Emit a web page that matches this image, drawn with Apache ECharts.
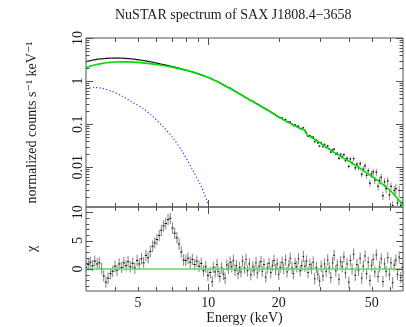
<!DOCTYPE html>
<html><head><meta charset="utf-8">
<script src="https://cdn.jsdelivr.net/npm/echarts@6/dist/echarts.min.js"></script>
<style>html,body{margin:0;padding:0;background:#fff}#c{width:406px;height:327px}</style>
</head><body><div id="c"></div>
<script>
// ---------- texts ----------
const titleText = 'NuSTAR spectrum of SAX J1808.4\u22123658';
const xTitle = 'Energy (keV)';
const yTopTitle = 'normalized counts s\u207B\u00B9 keV\u207B\u00B9';
const yBotTitle = '\u03C7';

// ---------- energy bins (shared by spectrum and residuals) ----------
const binE = [
  3.00, 3.07, 3.13, 3.20, 3.27, 3.35, 3.42, 3.50, 3.57, 3.65,
  3.73, 3.82, 3.90, 3.99, 4.07, 4.16, 4.26, 4.35, 4.45, 4.54,
  4.64, 4.75, 4.85, 4.96, 5.07, 5.18, 5.29, 5.41, 5.53, 5.65,
  5.78, 5.90, 6.03, 6.17, 6.30, 6.44, 6.58, 6.73, 6.88, 7.03,
  7.18, 7.34, 7.50, 7.67, 7.84, 8.01, 8.19, 8.37, 8.55, 8.74,
  8.93, 9.13, 9.33, 9.54, 9.75, 9.96, 10.2, 10.4, 10.5, 10.7,
  10.9, 11.0, 11.2, 11.4, 11.6, 11.8, 12.0, 12.2, 12.4, 12.6,
  12.8, 13.0, 13.2, 13.4, 13.6, 13.8, 14.0, 14.3, 14.5, 14.7,
  15.0, 15.2, 15.5, 15.7, 16.0, 16.2, 16.5, 16.8, 17.0, 17.3,
  17.6, 17.9, 18.2, 18.5, 18.8, 19.1, 19.4, 19.7, 20.0, 20.3,
  20.7, 21.0, 21.4, 21.7, 22.1, 22.4, 22.8, 23.1, 23.5, 23.9,
  24.3, 24.7, 25.1, 25.5, 25.9, 26.3, 26.7, 27.2, 27.6, 28.1,
  28.5, 29.0, 29.4, 29.9, 30.4, 30.9, 31.4, 31.9, 32.4, 32.9,
  33.4, 34.0, 34.5, 35.1, 35.6, 36.2, 36.8, 37.4, 38.0, 38.6,
  39.2, 39.9, 40.5, 41.2, 41.8, 42.5, 43.2, 43.9, 44.6, 45.3,
  46.0, 46.8, 47.5, 48.3, 49.1, 49.9, 50.7, 51.5, 52.3, 53.2,
  54.0, 54.9, 55.8, 56.7, 57.6, 58.5, 59.5, 60.4, 61.4, 62.4,
  63.4, 64.4, 65.5, 66.5, 67.6];

// ---------- top panel: data (black, grey error bars) ----------
const specRate = [
  2.82, 2.91, 2.99, 3.06, 3.13, 3.20, 3.25, 3.29, 3.32, 3.36,
  3.38, 3.40, 3.41, 3.42, 3.42, 3.42, 3.40, 3.38, 3.36, 3.33,
  3.30, 3.25, 3.21, 3.15, 3.10, 3.05, 2.99, 2.94, 2.87, 2.81,
  2.74, 2.68, 2.60, 2.53, 2.47, 2.42, 2.36, 2.30, 2.23, 2.17,
  2.11, 2.05, 1.99, 1.93, 1.86, 1.80, 1.74, 1.68, 1.63, 1.57,
  1.51, 1.46, 1.40, 1.34, 1.28, 1.22, 1.16, 1.11, 1.08, 1.03,
  0.99, 0.955, 0.905, 0.87, 0.82, 0.77, 0.745, 0.71, 0.685, 0.65,
  0.615, 0.58, 0.555, 0.53, 0.51, 0.485, 0.465, 0.43, 0.415, 0.395,
  0.37, 0.355, 0.34, 0.326, 0.305, 0.295, 0.277, 0.262, 0.249, 0.238,
  0.225, 0.214, 0.205, 0.192, 0.183, 0.174, 0.160, 0.154, 0.146, 0.141,
  0.140, 0.127, 0.129, 0.114, 0.112, 0.113, 0.100, 0.093, 0.096, 0.089,
  0.090, 0.079, 0.079, 0.083, 0.072, 0.064, 0.052, 0.054, 0.050, 0.050,
  0.0393, 0.043, 0.037, 0.031, 0.037, 0.030, 0.034, 0.029, 0.0316, 0.027,
  0.0226, 0.0253, 0.0263, 0.0205, 0.0211, 0.0162, 0.0200, 0.0177, 0.0196, 0.0144,
  0.0161, 0.0105, 0.0156, 0.0126, 0.0159, 0.0097, 0.0119, 0.0098, 0.0122, 0.0069,
  0.0091, 0.0108, 0.0065, 0.0084, 0.0043, 0.0070, 0.0078, 0.0050, 0.0077, 0.0036,
  0.0050, 0.0059, 0.0022, 0.0046, 0.0032, 0.0048, 0.0023, 0.0036, 0.0013, 0.0029,
  0.0032, 0.0015, 0.0029, 0.0013, 0.0015];
const specErrFrac = [
  0.004, 0.004, 0.004, 0.004, 0.004, 0.004, 0.004, 0.004, 0.004, 0.004,
  0.004, 0.004, 0.004, 0.004, 0.004, 0.004, 0.004, 0.004, 0.004, 0.004,
  0.004, 0.004, 0.004, 0.004, 0.004, 0.004, 0.004, 0.004, 0.004, 0.004,
  0.004, 0.004, 0.004, 0.004, 0.004, 0.004, 0.004, 0.004, 0.004, 0.004,
  0.004, 0.004, 0.004, 0.004, 0.004, 0.004, 0.004, 0.004, 0.004, 0.004,
  0.005, 0.005, 0.005, 0.005, 0.006, 0.006, 0.006, 0.007, 0.007, 0.007,
  0.008, 0.008, 0.009, 0.009, 0.010, 0.010, 0.011, 0.011, 0.012, 0.012,
  0.013, 0.013, 0.014, 0.014, 0.015, 0.015, 0.016, 0.017, 0.017, 0.018,
  0.019, 0.019, 0.020, 0.021, 0.022, 0.022, 0.023, 0.024, 0.025, 0.026,
  0.027, 0.028, 0.029, 0.030, 0.031, 0.032, 0.033, 0.034, 0.035, 0.036,
  0.037, 0.038, 0.039, 0.040, 0.041, 0.042, 0.043, 0.044, 0.045, 0.046,
  0.047, 0.048, 0.049, 0.050, 0.051, 0.052, 0.053, 0.054, 0.055, 0.056,
  0.055, 0.056, 0.057, 0.058, 0.059, 0.060, 0.061, 0.062, 0.063, 0.064,
  0.065, 0.068, 0.071, 0.075, 0.078, 0.082, 0.086, 0.090, 0.095, 0.100,
  0.105, 0.110, 0.115, 0.120, 0.125, 0.130, 0.135, 0.140, 0.145, 0.150,
  0.155, 0.160, 0.165, 0.170, 0.175, 0.180, 0.185, 0.190, 0.195, 0.200,
  0.205, 0.210, 0.215, 0.220, 0.225, 0.230, 0.240, 0.250, 0.260, 0.270,
  0.280, 0.290, 0.300, 0.310, 0.320];

// ---------- top panel: model (green) ----------
const modelE = [3.0, 3.2, 3.4, 3.6, 3.8, 4.0, 4.3, 4.6, 5.0, 5.5, 6.0, 6.5, 7.0, 7.5, 8.0, 8.5, 9.0, 9.5, 10.0,
  10.5, 11.0, 12.0, 13.0, 14.0, 15.0, 16.0, 17.0, 18.0, 19.0, 20.0, 21.0, 22.0, 23.0, 24.0, 25.0,
  25.8, 26.5, 27.5, 29.0, 31.0, 33.0, 35.0, 37.0, 40.0, 43.0, 46.0, 50.0, 54.0, 58.0, 62.0, 65.0, 68.0];
const modelRate = [2.07, 2.30, 2.48, 2.62, 2.72, 2.78, 2.81, 2.80, 2.72, 2.58, 2.43, 2.27, 2.11, 1.95, 1.80, 1.64, 1.49, 1.35, 1.21,
  1.08, 0.96, 0.74, 0.58, 0.46, 0.37, 0.30, 0.25, 0.21, 0.175, 0.148, 0.127, 0.110, 0.096, 0.086, 0.078,
  0.072, 0.055, 0.050, 0.042, 0.033, 0.026, 0.021, 0.0175, 0.0138, 0.0108, 0.0084, 0.0062, 0.0046, 0.0034, 0.0024, 0.0018, 0.0013];

// ---------- top panel: thermal component (blue dotted) ----------
const bbE = [3.0, 3.25, 3.5, 3.9, 4.3, 4.75, 5.25, 5.8, 6.4, 7.0, 7.75, 8.5, 9.35, 10.0];
const bbRate = [0.66, 0.71, 0.68, 0.57, 0.44, 0.32, 0.235, 0.15, 0.088, 0.051, 0.023, 0.0095, 0.0035, 0.0014];

// ---------- bottom panel: residuals (chi) ----------
const resChi = [
  0.3, 0.8, 1.2, 0.6, 1.4, 0.9, 1.1, 0.1, -1.2, -2.3,
  -1.6, -0.8, -0.4, 0.5, -0.2, 0.9, 0.3, 1.1, 0.6, 1.3,
  0.4, 1.0, 0.2, 1.5, 0.9, 1.8, 1.1, 2.4, 2.0, 3.1,
  4.0, 4.6, 5.2, 5.9, 6.8, 7.6, 8.0, 8.7, 8.9, 7.2,
  6.3, 5.5, 4.4, 3.0, 1.6, 1.5, 1.9, 1.2, 1.7, 0.8,
  1.4, 0.5, 1.0, -0.3, 0.4, -1.1, -0.6, -2.2, 0.3, -0.5,
  0.8, -0.4, -1.3, 0.2, -0.9, -1.6, 0.7, 0.1, 1.2, 0.4,
  1.5, -0.2, 0.6, -0.8, 0.3, -0.5, 1.4, 0.2, 1.7, -0.3,
  0.9, -1.0, 0.4, -0.2, 1.1, -0.7, 0.5, 1.3, -0.4, 0.8,
  -1.4, 0.2, 1.0, -0.6, 0.6, 1.5, -0.1, 0.9, -0.9, 0.3,
  1.2, 0.1, 1.6, -0.5, 0.7, 1.9, 0.2, -0.8, 1.0, 0.4,
  1.8, -0.3, 0.6, 2.2, 0.5, 1.4, -0.6, 0.8, 0.1, 1.2,
  -1.7, 0.3, -0.9, -2.1, 0.5, -1.2, 0.9, -0.4, 1.6, 0.2,
  -1.5, 1.1, 2.4, -0.3, 0.7, -1.8, 1.3, 0.4, 2.1, -0.7,
  0.9, -2.3, 1.5, 0.0, 2.6, -1.1, 0.8, -0.2, 1.9, -1.6,
  0.5, 2.3, -0.8, 1.2, -2.0, 0.6, 1.7, -0.5, 2.5, -1.3,
  0.4, 1.8, -2.2, 0.9, -0.4, 2.0, -1.0, 1.1, -2.4, 0.7,
  1.6, -0.9, 2.1, -1.5, 0.3];
const resZero = [0];

// ---------- axes: ranges, ticks and labels ----------
const xRange = [3, 68];
const yTopRange = [0.0012, 10];
const yBotRange = [-3.85, 10.9];
const xTickVals = [4, 5, 6, 7, 8, 9, 10, 20, 30, 40, 50, 60];
const xMajorTicks = [10];
const xLabelVals = [5, 10, 20, 50];
const xLabelText = ['5', '10', '20', '50'];
const yTopMajor = [0.01, 0.1, 1, 10];
const yTopMinor = [0.002, 0.003, 0.004, 0.005, 0.006, 0.007, 0.008, 0.009,
  0.02, 0.03, 0.04, 0.05, 0.06, 0.07, 0.08, 0.09,
  0.2, 0.3, 0.4, 0.5, 0.6, 0.7, 0.8, 0.9,
  2, 3, 4, 5, 6, 7, 8, 9];
const yTopLabelText = ['0.01', '0.1', '1', '10'];
const yBotMajor = [0, 5, 10];
const yBotMinor = [-3, -2, -1, 1, 2, 3, 4, 6, 7, 8, 9];
const yBotLabelText = ['0', '5', '10'];

// ---------- styles ----------
const AX = '#505050';
const TXT = '#1a1a1a';
const FAM = '"Liberation Serif", "DejaVu Serif", serif';
const FS = 14;

const chart = echarts.init(document.getElementById('c'), null, {renderer: 'canvas'});

function px(v) { return Math.round(v) + 0.5; }

function xTickSeries(g, yRef) {
  return {
    type: 'custom', xAxisIndex: g, yAxisIndex: g, silent: true, z: 10, clip: false,
    data: xTickVals.map(v => [v, yRef]),
    renderItem(params, api) {
      const cs = params.coordSys;
      const v = api.value(0);
      const x = px(api.coord([v, yRef])[0]);
      const len = xMajorTicks.indexOf(v) >= 0 ? 7 : 4;
      const b = cs.y + cs.height, t = cs.y;
      return {type: 'group', children: [
        {type: 'line', shape: {x1: x, y1: b, x2: x, y2: b - len}, style: {stroke: AX, lineWidth: 1}},
        {type: 'line', shape: {x1: x, y1: t, x2: x, y2: t + len}, style: {stroke: AX, lineWidth: 1}}
      ]};
    }
  };
}
function yTickSeries(g, vals, len, xRef) {
  return {
    type: 'custom', xAxisIndex: g, yAxisIndex: g, silent: true, z: 10, clip: false,
    data: vals.map(v => [xRef, v]),
    renderItem(params, api) {
      const cs = params.coordSys;
      const y = px(api.coord([xRef, api.value(1)])[1]);
      const l = cs.x, r = cs.x + cs.width;
      return {type: 'group', children: [
        {type: 'line', shape: {x1: l, y1: y, x2: l + len, y2: y}, style: {stroke: AX, lineWidth: 1}},
        {type: 'line', shape: {x1: r, y1: y, x2: r - len, y2: y}, style: {stroke: AX, lineWidth: 1}}
      ]};
    }
  };
}
function yLabelSeries(g, vals, texts, xRef) {
  return {
    type: 'custom', xAxisIndex: g, yAxisIndex: g, silent: true, z: 10, clip: false,
    data: vals.map(v => [xRef, v]),
    renderItem(params, api) {
      const cs = params.coordSys;
      const y = api.coord([xRef, api.value(1)])[1];
      return {type: 'text', x: cs.x - 8, y: y, rotation: Math.PI / 2,
        style: {text: texts[params.dataIndex], fill: TXT, fontSize: FS, fontFamily: FAM, align: 'center', verticalAlign: 'middle'}};
    }
  };
}
function xLabelSeries(g, yRef) {
  return {
    type: 'custom', xAxisIndex: g, yAxisIndex: g, silent: true, z: 10, clip: false,
    data: xLabelVals.map(v => [v, yRef]),
    renderItem(params, api) {
      const cs = params.coordSys;
      const x = api.coord([api.value(0), yRef])[0];
      return {type: 'text', x: x, y: cs.y + cs.height + 12,
        style: {text: xLabelText[params.dataIndex], fill: TXT, fontSize: FS, fontFamily: FAM, align: 'center', verticalAlign: 'middle'}};
    }
  };
}
function binEdges(arr, i) {
  const e = arr[i];
  let hi = i < arr.length - 1 ? Math.sqrt(arr[i + 1] * e) : null;
  let lo = i > 0 ? Math.sqrt(arr[i - 1] * e) : null;
  if (lo === null) lo = e * e / hi;
  if (hi === null) hi = e * e / lo;
  return [lo, hi];
}

const hiddenAxis = {axisLine: {show: false}, axisTick: {show: false}, axisLabel: {show: false}, splitLine: {show: false}};

const option = {
  animation: false,
  backgroundColor: '#fff',
  title: {text: titleText, left: 110, top: 3,
    textStyle: {fontFamily: FAM, fontSize: FS, fontWeight: 'normal', color: TXT}},
  grid: [
    {left: 86, top: 38, width: 317, height: 169, show: true, borderColor: AX, borderWidth: 1, backgroundColor: 'transparent'},
    {left: 86, top: 207, width: 317, height: 84, show: true, borderColor: AX, borderWidth: 1, backgroundColor: 'transparent'}
  ],
  xAxis: [
    Object.assign({type: 'log', logBase: 10, gridIndex: 0, min: xRange[0], max: xRange[1]}, hiddenAxis),
    Object.assign({type: 'log', logBase: 10, gridIndex: 1, min: xRange[0], max: xRange[1],
      name: xTitle, nameLocation: 'middle', nameGap: 20,
      nameTextStyle: {fontFamily: FAM, fontSize: FS, color: TXT}}, hiddenAxis)
  ],
  yAxis: [
    Object.assign({type: 'log', logBase: 10, gridIndex: 0, min: yTopRange[0], max: yTopRange[1],
      name: yTopTitle, nameLocation: 'middle', nameRotate: 90, nameGap: 47,
      nameTextStyle: {fontFamily: FAM, fontSize: FS, color: TXT}}, hiddenAxis),
    Object.assign({type: 'value', gridIndex: 1, min: yBotRange[0], max: yBotRange[1],
      name: yBotTitle, nameLocation: 'middle', nameRotate: 90, nameGap: 47,
      nameTextStyle: {fontFamily: FAM, fontSize: FS, color: TXT}}, hiddenAxis)
  ],
  series: [
    {
      type: 'custom', xAxisIndex: 0, yAxisIndex: 0, clip: true, z: 2, silent: true,
      data: binE.map((e, i) => [e, specRate[i]]),
      renderItem(params, api) {
        const i = params.dataIndex;
        const v = api.value(1), f = specErrFrac[i], e = api.value(0);
        const [lo, hi] = binEdges(binE, i);
        const pL = api.coord([lo, v]), pR = api.coord([hi, v]);
        const pT = api.coord([e, v * (1 + f)]), pB = api.coord([e, v * (1 - f)]);
        return {type: 'group', children: [
          {type: 'line', shape: {x1: pT[0], y1: pT[1], x2: pB[0], y2: pB[1]}, style: {stroke: '#8f8f8f', lineWidth: 1}},
          {type: 'line', shape: {x1: pL[0], y1: pL[1], x2: pR[0], y2: pR[1]}, style: {stroke: '#000', lineWidth: 1.2}}
        ]};
      }
    },
    {
      type: 'line', xAxisIndex: 0, yAxisIndex: 0, z: 3, silent: true, showSymbol: false,
      data: modelE.map((e, i) => [e, modelRate[i]]),
      lineStyle: {color: '#00dd00', width: 1.6}
    },
    {
      type: 'line', xAxisIndex: 0, yAxisIndex: 0, z: 3, silent: true, showSymbol: false, smooth: 0.3,
      data: bbE.map((e, i) => [e, bbRate[i]]),
      lineStyle: {color: '#3030ff', width: 1.2, type: [1.2, 2.2]}
    },
    {
      type: 'custom', xAxisIndex: 1, yAxisIndex: 1, clip: true, z: 2, silent: true,
      data: binE.map((e, i) => [e, resChi[i]]),
      renderItem(params, api) {
        const i = params.dataIndex;
        const v = api.value(1), e = api.value(0);
        const [lo, hi] = binEdges(binE, i);
        const pL = api.coord([lo, v]), pR = api.coord([hi, v]);
        const pT = api.coord([e, v + 1]), pB = api.coord([e, v - 1]);
        return {type: 'group', children: [
          {type: 'line', shape: {x1: pT[0], y1: pT[1], x2: pB[0], y2: pB[1]}, style: {stroke: '#8c8c8c', lineWidth: 1.1}},
          {type: 'line', shape: {x1: pL[0], y1: pL[1], x2: pR[0], y2: pR[1]}, style: {stroke: '#111', lineWidth: 1}}
        ]};
      },
      markLine: {silent: true, symbol: 'none', label: {show: false},
        lineStyle: {color: '#55e055', width: 1.5, type: 'solid'},
        data: resZero.map(z => ({yAxis: z}))}
    },
    xTickSeries(0, 1), xTickSeries(1, 0),
    yTickSeries(0, yTopMajor, 7, 10), yTickSeries(0, yTopMinor, 3.5, 10),
    yTickSeries(1, yBotMajor, 7, 10), yTickSeries(1, yBotMinor, 3.5, 10),
    yLabelSeries(0, yTopMajor, yTopLabelText, 10),
    yLabelSeries(1, yBotMajor, yBotLabelText, 10),
    xLabelSeries(1, 0)
  ]
};
chart.setOption(option);
</script>
</body></html>
